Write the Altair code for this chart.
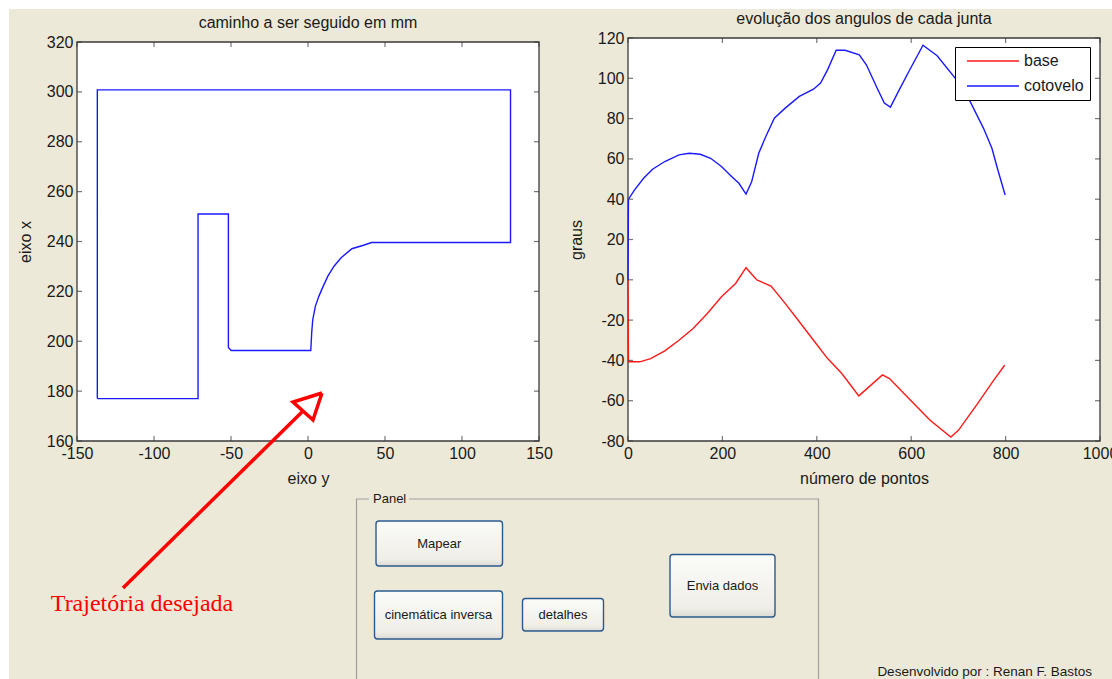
import altair as alt
import pandas as pd

# ---------------- data ----------------
# left plot: path to follow (horizontal = "eixo y", vertical = "eixo x"), in order
caminho_eixo_y = [-136.8, -136.8, 131.5, 131.5, 41.3, 35.5, 28.5, 21.5, 16.9, 12.9, 9.9,
                  7.1, 4.8, 3.1, 2.4, 1.8, -49.9, -51.7, -51.7, -71.4, -71.4, -136.8]
caminho_eixo_x = [177.0, 300.8, 300.8, 239.6, 239.6, 238.4, 237.1, 233.5, 230.1, 226.1, 222.1,
                  218.1, 214.1, 208.7, 203.4, 196.3, 196.3, 197.5, 251.0, 251.0, 177.0, 177.0]

# right plot: joint angles vs point number
pontos_base = [0, 1, 25, 48, 78, 108, 138, 168, 198, 228, 250, 273, 303, 333, 363, 393, 423,
               453, 489, 539, 554, 595, 640, 684, 700, 738, 775, 798]
angulo_base = [0, -40.7, -40.7, -39.1, -35.3, -30.0, -24.2, -16.7, -8.4, -1.8, 6.0, -0.1, -3.1,
               -11.7, -20.8, -30.0, -39.1, -46.5, -57.6, -47.2, -49.0, -58.9, -69.7, -78.0,
               -74.7, -62.3, -49.8, -42.4]
pontos_cotovelo = [0, 1, 14, 33, 52, 78, 108, 130, 153, 175, 198, 220, 235, 250, 262, 277, 292,
                   310, 333, 363, 393, 408, 423, 441, 460, 490, 505, 528, 543, 556, 573, 595,
                   625, 655, 693, 725, 753, 771, 783, 799]
angulo_cotovelo = [0, 40.0, 44.6, 50.4, 54.9, 58.7, 62.0, 62.8, 62.3, 60.3, 56.2, 51.2, 47.9,
                   42.5, 48.7, 62.8, 71.1, 80.2, 85.2, 91.0, 94.6, 97.6, 104.3, 113.9, 113.9,
                   111.7, 106.7, 95.1, 87.7, 85.7, 93.5, 103.4, 116.4, 111.2, 100.1, 88.4,
                   75.3, 65.3, 55.0, 42.1]
juntas = ["base", "cotovelo"]

# tick labels
ticks_eixo_y = [-150, -100, -50, 0, 50, 100, 150]
ticks_eixo_x = [160, 180, 200, 220, 240, 260, 280, 300, 320]
ticks_pontos = [0, 200, 400, 600, 800, 1000]
ticks_graus = [-80, -60, -40, -20, 0, 20, 40, 60, 80, 100, 120]

titulo_esq = "caminho a ser seguido em mm"
titulo_dir = "evolução dos angulos de cada junta"

# GUI elements (screen layout of the window)
botoes = ["Mapear", "cinemática inversa", "detalhes", "Envia dados"]
botao_x0 = [376, 374.5, 522.5, 670]
botao_x1 = [502.5, 502.5, 603.5, 775]
botao_y0 = [521, 591, 598.5, 554.5]
botao_y1 = [566, 639, 631, 617]

# ---------------- styling ----------------
W, H = 1112, 679
FONT = "Liberation Sans"
INK = "#1a1a1a"
FRAME = "#3a3a3a"
BEIGE = "#ECE9D8"
TICK = 5
L_XR, L_YR = [77, 539], [441, 42]
R_XR, R_YR = [628, 1100], [441, 38]


def x_axis(values, title, offset):
    return alt.Axis(values=values, orient="bottom", offset=offset, title=title, ticks=False,
                    domain=False, grid=False, labelExpr="toString(datum.value)",
                    labelFont=FONT, labelFontSize=16, labelColor=INK, labelPadding=4,
                    labelFlush=False, labelOverlap=False, titleFont=FONT, titleFontSize=16,
                    titleFontWeight="normal", titleColor=INK, titlePadding=9, zindex=2)


def y_axis(values, title, offset):
    return alt.Axis(values=values, orient="left", offset=offset, title=title, ticks=False,
                    domain=False, grid=False, labelExpr="toString(datum.value)",
                    labelFont=FONT, labelFontSize=16, labelColor=INK, labelPadding=4,
                    labelFlush=False, labelOverlap=False, titleFont=FONT, titleFontSize=16,
                    titleFontWeight="normal", titleColor=INK, titlePadding=13, zindex=2)


def panel(xdom, ydom, xr, yr, xticks, yticks, xtitle, ytitle, title, data_layers):
    def xs():
        return alt.Scale(domain=xdom, range=xr, nice=False, zero=False)

    def ys():
        return alt.Scale(domain=ydom, range=yr, nice=False, zero=False)

    frame = alt.Chart(pd.DataFrame({"a": [xdom[0]], "b": [xdom[1]], "c": [ydom[0]], "d": [ydom[1]]})
                      ).mark_rect(fill="white", stroke=FRAME, strokeWidth=1.3).encode(
        x=alt.X("a:Q", scale=xs(), axis=x_axis(xticks, xtitle, yr[0] - H)),
        x2=alt.X2("b"),
        y=alt.Y("c:Q", scale=ys(), axis=y_axis(yticks, ytitle, -xr[0])),
        y2=alt.Y2("d"),
    )
    layers = [frame]
    layers += data_layers(xs, ys)
    # inward ticks on the four sides
    for edge, off in ((ydom[0], -TICK / 2), (ydom[1], TICK / 2)):
        layers.append(alt.Chart(pd.DataFrame({"v": xticks, "e": edge})).mark_tick(
            orient="vertical", size=TICK, thickness=1.2, color=FRAME, yOffset=off).encode(
            x=alt.X("v:Q", scale=xs(), axis=None), y=alt.Y("e:Q", scale=ys(), axis=None)))
    for edge, off in ((xdom[0], TICK / 2), (xdom[1], -TICK / 2)):
        layers.append(alt.Chart(pd.DataFrame({"v": yticks, "e": edge})).mark_tick(
            orient="horizontal", size=TICK, thickness=1.2, color=FRAME, xOffset=off).encode(
            y=alt.Y("v:Q", scale=ys(), axis=None), x=alt.X("e:Q", scale=xs(), axis=None)))
    layers.append(alt.Chart(pd.DataFrame({"tx": [(xdom[0] + xdom[1]) / 2], "ty": [ydom[1]], "t": [title]})
                            ).mark_text(dy=-14, baseline="alphabetic", align="center", font=FONT,
                                        fontSize=16, color=INK).encode(
        x=alt.X("tx:Q", scale=xs(), axis=None), y=alt.Y("ty:Q", scale=ys(), axis=None), text="t:N"))
    return layers


caminho_df = pd.DataFrame({"ordem": list(range(len(caminho_eixo_y))),
                           "eixo_y": caminho_eixo_y, "eixo_x": caminho_eixo_x})


def left_layers(xs, ys):
    return [alt.Chart(caminho_df).mark_line(color="#1a1aff", strokeWidth=1.4).encode(
        x=alt.X("eixo_y:Q", scale=xs(), axis=None), y=alt.Y("eixo_x:Q", scale=ys(), axis=None),
        order="ordem:Q")]


juntas_df = pd.concat([
    pd.DataFrame({"ponto": pontos_base, "graus": angulo_base, "junta": juntas[0]}),
    pd.DataFrame({"ponto": pontos_cotovelo, "graus": angulo_cotovelo, "junta": juntas[1]}),
])

# legend symbol: a long horizontal stroke drawn with a small nominal size
legenda = alt.Legend(orient="none", legendX=955, legendY=47, title=None, fillColor="white",
                     strokeColor="black", padding=6, rowPadding=9, symbolType="M-5,0H5",
                     symbolSize=108, symbolStrokeWidth=1.5, symbolOffset=24, labelFont=FONT,
                     labelFontSize=16, labelColor=INK, labelOffset=23)


def right_layers(xs, ys):
    return [alt.Chart(juntas_df).mark_line(strokeWidth=1.4).encode(
        x=alt.X("ponto:Q", scale=xs(), axis=None), y=alt.Y("graus:Q", scale=ys(), axis=None),
        color=alt.Color("junta:N", scale=alt.Scale(domain=juntas, range=["#ff1a1a", "#1a1aff"]),
                        legend=legenda),
        order="ponto:Q")]


left = panel([-150, 150], [160, 320], L_XR, L_YR, ticks_eixo_y, ticks_eixo_x,
             "eixo y", "eixo x", titulo_esq, left_layers)
right = panel([0, 1000], [-80, 120], R_XR, R_YR, ticks_pontos, ticks_graus,
              "número de pontos", "graus", titulo_dir, right_layers)

# ---------------- window / GUI layer ----------------
PX = dict(scale=None, axis=None)
bg = alt.Chart(pd.DataFrame({"x0": [9], "x1": [W + 5], "y0": [9], "y1": [H + 5]})).mark_rect(
    fill=BEIGE).encode(x=alt.X("x0:Q", **PX), x2=alt.X2("x1"), y=alt.Y("y0:Q", **PX), y2=alt.Y2("y1"))

panel_box = alt.Chart(pd.DataFrame({"x0": [356.5], "x1": [818.5], "y0": [499], "y1": [700]})).mark_rect(
    fill=None, stroke="#a0a0a0", strokeWidth=1.2).encode(
    x=alt.X("x0:Q", **PX), x2=alt.X2("x1"), y=alt.Y("y0:Q", **PX), y2=alt.Y2("y1"))
panel_gap = alt.Chart(pd.DataFrame({"x0": [369], "x1": [409], "y0": [492], "y1": [506]})).mark_rect(
    fill=BEIGE).encode(x=alt.X("x0:Q", **PX), x2=alt.X2("x1"), y=alt.Y("y0:Q", **PX), y2=alt.Y2("y1"))
panel_lbl = alt.Chart(pd.DataFrame({"x": [373], "y": [499], "t": ["Panel"]})).mark_text(
    align="left", baseline="middle", font=FONT, fontSize=13, color=INK).encode(
    x=alt.X("x:Q", **PX), y=alt.Y("y:Q", **PX), text="t:N")

botoes_df = pd.DataFrame({"t": botoes, "x0": botao_x0, "x1": botao_x1, "y0": botao_y0, "y1": botao_y1})
grad = alt.Gradient(gradient="linear", x1=0, x2=0, y1=0, y2=1,
                    stops=[alt.GradientStop(color="#fbfbf9", offset=0),
                           alt.GradientStop(color="#efeee8", offset=0.85),
                           alt.GradientStop(color="#dcdad2", offset=1)])
botoes_rect = alt.Chart(botoes_df).mark_rect(fill=grad, stroke="#2b5b8e", strokeWidth=1.4,
                                             cornerRadius=3).encode(
    x=alt.X("x0:Q", **PX), x2=alt.X2("x1"), y=alt.Y("y0:Q", **PX), y2=alt.Y2("y1"))
botoes_txt = alt.Chart(botoes_df).transform_calculate(
    xm="(datum.x0 + datum.x1) / 2", ym="(datum.y0 + datum.y1) / 2").mark_text(
    align="center", baseline="middle", font=FONT, fontSize=13, color=INK).encode(
    x=alt.X("xm:Q", **PX), y=alt.Y("ym:Q", **PX), text="t:N")

rodape = alt.Chart(pd.DataFrame({"x": [1092], "y": [672], "t": ["Desenvolvido por : Renan F. Bastos"]})
                   ).mark_text(align="right", baseline="middle", font=FONT, fontSize=13.5,
                               color=INK).encode(x=alt.X("x:Q", **PX), y=alt.Y("y:Q", **PX), text="t:N")

seta_df = pd.DataFrame({
    "parte": ["haste", "haste", "ponta", "ponta", "ponta", "ponta"],
    "k": [0, 1, 0, 1, 2, 3],
    "x": [123, 302, 322, 293, 313, 322],
    "y": [588, 412, 393, 402, 420, 393],
})
seta = alt.Chart(seta_df).mark_line(color="#ff0000", strokeWidth=3.5, strokeJoin="miter").encode(
    x=alt.X("x:Q", **PX), y=alt.Y("y:Q", **PX), detail="parte:N", order="k:Q")
seta_txt = alt.Chart(pd.DataFrame({"x": [142], "y": [611], "t": ["Trajetória desejada"]})).mark_text(
    align="center", baseline="alphabetic", font="Liberation Serif", fontSize=24, color="#ff0000").encode(
    x=alt.X("x:Q", **PX), y=alt.Y("y:Q", **PX), text="t:N")

chart = alt.layer(
    bg, *left, *right, panel_box, panel_gap, panel_lbl, botoes_rect, botoes_txt, rodape, seta, seta_txt
).resolve_scale(x="independent", y="independent", color="independent").properties(
    width=W, height=H, autosize=alt.AutoSizeParams(type="none"), padding=0, background="white"
).configure_view(stroke=None)

chart.save("out.html", embed_options={"renderer": "svg", "actions": False})
